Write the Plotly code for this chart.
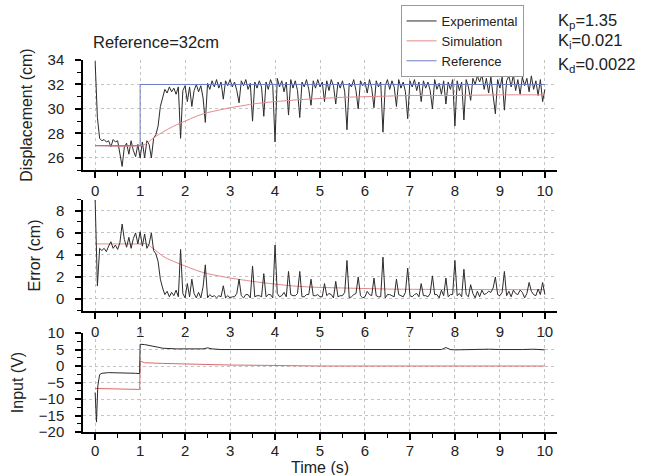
import plotly.graph_objects as go

# ---------------------------------------------------------------
# Closed-loop PID response, reference step to 32 cm
# ---------------------------------------------------------------
SAMPLE_DT = 0.05  # s, sampling period of the logged experiment

# Experimental displacement (cm), one value per sample
disp_exp = [
    33.9, 29.3, 27.6, 27.4, 27.5, 27.3, 27.4, 26.9, 27.5, 27.3,
    27.4, 26.4, 25.3, 26.9, 27.2, 26.3, 27.4, 26.6, 26.1, 27.1,
    26.0, 27.3, 26.0, 27.4, 27.1, 26.0, 27.6, 27.9, 28.6, 30.2,
    31.0, 31.6, 31.3, 31.8, 31.4, 31.7, 31.2, 31.8, 27.6, 31.5,
    31.9, 30.6, 31.8, 30.2, 31.5, 32.0, 31.4, 31.9, 30.9, 28.9,
    32.1, 31.6, 32.3, 31.8, 32.4, 31.7, 32.2, 30.8, 32.3, 31.9,
    32.4, 31.8, 32.2, 31.5, 30.5, 32.3, 31.9, 32.4, 31.6, 32.1,
    29.0, 32.2, 31.7, 32.3, 31.8, 29.4, 32.2, 31.6, 32.4, 31.9,
    27.3, 32.5, 31.8, 32.3, 31.4, 32.2, 29.5, 32.4, 31.7, 32.3,
    31.5, 29.3, 32.2, 31.8, 32.4, 31.6, 30.3, 32.3, 31.7, 32.4,
    31.8, 32.2, 30.6, 32.3, 31.5, 32.4, 31.9, 30.4, 32.2, 31.7,
    32.3, 31.4, 28.3, 32.1, 31.8, 32.4, 31.5, 30.0, 32.3, 31.9,
    32.2, 31.3, 32.4, 31.7, 30.1, 32.3, 31.8, 32.2, 28.1, 31.9,
    32.4, 31.6, 32.3, 31.8, 30.2, 32.4, 31.7, 32.2, 31.4, 29.2,
    32.3, 31.8, 32.4, 31.5, 32.2, 30.6, 32.3, 31.7, 32.2, 31.5,
    30.0, 32.4, 31.6, 32.1, 31.2, 32.3, 30.4, 32.2, 31.6, 32.4,
    28.6, 32.3, 31.5, 32.2, 29.1, 32.4, 31.8, 30.7, 32.5, 32.0,
    32.7, 32.2, 32.8, 31.6, 32.5, 31.3, 32.6, 31.0, 29.6, 32.4,
    31.7, 32.6, 29.9, 32.3, 32.7, 31.8, 32.8, 31.5, 32.4, 31.2,
    32.6, 31.9, 32.5, 31.4, 32.7, 31.6, 32.3, 31.1, 32.4, 30.6,
    31.6,
]

# Experimental tracking error (cm), one value per sample
err_exp = [
    9.0, 1.2, 4.6, 4.4, 4.6, 4.3, 4.8, 5.2, 4.6, 4.9,
    4.5, 5.1, 6.8, 5.4, 4.7, 5.6, 4.6, 5.5, 6.0, 5.0,
    6.1, 4.8, 5.9, 4.6, 5.0, 6.0, 4.4, 4.1, 3.4, 1.8,
    1.0, 0.4, 0.7, 0.2, 0.6, 0.3, 0.8, 0.2, 4.5, 0.5,
    0.1, 1.4, 0.2, 1.8, 0.5, 0.1, 0.6, 0.1, 1.1, 3.1,
    0.1, 0.4, 0.2, 0.3, 0.1, 0.3, 0.2, 1.2, 0.1, 0.3,
    0.1, 0.2, 0.2, 0.5, 1.8, 0.3, 0.1, 0.4, 0.4, 0.1,
    3.0, 0.2, 0.3, 0.3, 0.2, 2.3, 0.2, 0.4, 0.4, 0.1,
    4.9, 0.5, 0.2, 0.3, 0.6, 0.2, 2.5, 0.4, 0.3, 0.3,
    0.5, 2.5, 0.2, 0.2, 0.4, 0.4, 1.8, 0.3, 0.3, 0.4,
    0.2, 0.2, 1.4, 0.3, 0.5, 0.4, 0.1, 1.6, 0.2, 0.3,
    0.3, 0.6, 3.5, 0.1, 0.2, 0.4, 0.5, 2.0, 0.3, 0.1,
    0.2, 0.7, 0.4, 0.3, 1.9, 0.3, 0.2, 0.2, 3.8, 0.1,
    0.4, 0.4, 0.3, 0.2, 1.8, 0.4, 0.3, 0.2, 0.6, 2.8,
    0.3, 0.2, 0.4, 0.5, 0.2, 1.4, 0.3, 0.3, 0.2, 0.5,
    2.1, 0.4, 0.4, 0.1, 0.8, 0.3, 1.9, 0.2, 0.4, 0.4,
    3.5, 0.3, 0.5, 0.2, 2.7, 0.4, 0.2, 1.3, 0.5, 0.1,
    0.7, 0.2, 0.8, 0.4, 0.5, 0.7, 0.6, 1.0, 2.0, 0.4,
    0.3, 0.6, 2.5, 0.3, 0.7, 0.2, 0.8, 0.5, 0.4, 0.8,
    0.6, 0.1, 0.5, 1.5, 0.7, 0.4, 0.3, 0.9, 0.4, 1.5,
    0.4,
]

t_exp = [round(i * SAMPLE_DT, 2) for i in range(len(disp_exp))]

# Simulated response (model output)
sim_t = [0.0, 1.0, 1.15, 1.25, 1.5, 1.75, 2.0, 2.25, 2.5, 2.75, 3.0,
         3.25, 3.5, 4.0, 4.5, 5.0, 5.5, 6.0, 6.5, 7.0, 8.0, 9.0, 10.0]
disp_sim = [27.0, 27.0, 27.2, 27.5, 28.1, 28.6, 29.0, 29.4, 29.7, 29.9, 30.1,
            30.25, 30.4, 30.6, 30.75, 30.85, 30.95, 31.0, 31.05, 31.1, 31.1, 31.15, 31.15]
err_sim_t = [0.0, 1.0, 1.15, 1.25, 1.35, 1.5, 1.75, 2.0, 2.25, 2.5, 2.75, 3.0,
             3.25, 3.5, 4.0, 4.5, 5.0, 5.5, 6.0, 6.5, 7.0, 8.0, 9.0, 10.0]
err_sim = [5.0, 5.0, 5.0, 4.7, 4.4, 3.9, 3.4, 3.0, 2.6, 2.3, 2.1, 1.9,
           1.75, 1.6, 1.35, 1.15, 1.05, 1.0, 0.95, 0.9, 0.88, 0.86, 0.85, 0.85]

# Reference set-point (cm)
ref_t = [0.0, 1.0, 1.0, 10.0]
ref_val = [27.0, 27.0, 32.0, 32.0]

# Control input (V)
in_exp_t = [0.0, 0.03, 0.04, 0.06, 0.1, 0.15, 0.3, 0.5, 0.7, 0.9, 0.99,
            1.0, 1.1, 1.2, 1.3, 1.4, 1.5, 1.6, 1.8, 2.0, 2.2, 2.4, 2.5, 2.6,
            2.8, 3.0, 3.25, 3.5, 3.75, 4.0, 4.25, 4.5, 4.75, 5.0, 5.25, 5.5,
            5.75, 6.0, 6.25, 6.5, 6.75, 7.0, 7.25, 7.5, 7.7, 7.8, 7.9, 8.0,
            8.25, 8.5, 8.75, 9.0, 9.25, 9.5, 9.75, 10.0]
in_exp = [-8.0, -17.0, -13.0, -6.0, -2.6, -2.2, -2.0, -2.0, -2.1, -2.2, -2.3,
          6.6, 6.5, 6.3, 6.0, 5.7, 5.4, 5.3, 5.2, 5.2, 5.1, 5.2, 5.5, 5.2,
          5.0, 5.0, 5.1, 4.9, 5.1, 5.0, 4.9, 5.1, 5.0, 4.9, 5.0, 4.9,
          5.1, 5.0, 4.9, 5.1, 5.0, 4.9, 5.0, 5.1, 5.0, 5.6, 5.0, 4.9,
          5.0, 4.9, 5.1, 5.0, 4.9, 5.0, 5.1, 4.9]
in_sim_t = [0.0, 0.5, 0.99, 1.0, 1.1, 1.5, 2.0, 2.5, 3.0, 3.8, 5.0, 10.0]
in_sim = [-6.8, -6.9, -7.1, 1.5, 1.0, 0.8, 0.6, 0.4, 0.3, 0.2, 0.0, 0.0]

EXP_COLOR = "#2b2b2b"
SIM_COLOR = "#e48a8a"
REF_COLOR = "#6f7cc4"
TEXT_COLOR = "#222222"
FONT = "Arial, Liberation Sans, sans-serif"

fig = go.Figure()

# Displacement panel
fig.add_trace(go.Scatter(x=t_exp, y=disp_exp, mode="lines", name="Experimental",
                         line=dict(color=EXP_COLOR, width=1), xaxis="x", yaxis="y"))
fig.add_trace(go.Scatter(x=sim_t, y=disp_sim, mode="lines", name="Simulation",
                         line=dict(color=SIM_COLOR, width=1, shape="spline"),
                         xaxis="x", yaxis="y"))
fig.add_trace(go.Scatter(x=ref_t, y=ref_val, mode="lines", name="Reference",
                         line=dict(color=REF_COLOR, width=1), xaxis="x", yaxis="y"))

# Error panel
fig.add_trace(go.Scatter(x=err_sim_t, y=err_sim, mode="lines", showlegend=False,
                         line=dict(color=SIM_COLOR, width=1, shape="spline"),
                         xaxis="x2", yaxis="y2"))
fig.add_trace(go.Scatter(x=t_exp, y=err_exp, mode="lines", showlegend=False,
                         line=dict(color=EXP_COLOR, width=1), xaxis="x2", yaxis="y2"))

# Input panel
fig.add_trace(go.Scatter(x=in_sim_t, y=in_sim, mode="lines", showlegend=False,
                         line=dict(color="#d86a6a", width=1), xaxis="x3", yaxis="y3"))
fig.add_trace(go.Scatter(x=in_exp_t, y=in_exp, mode="lines", showlegend=False,
                         line=dict(color=EXP_COLOR, width=1), xaxis="x3", yaxis="y3"))

axis_common = dict(
    showline=True, linecolor="black", linewidth=1.5,
    ticks="outside", ticklen=6, tickwidth=1.5, tickcolor="black",
    showgrid=True, gridcolor="#c4c4c4", griddash="dot", gridwidth=1,
    zeroline=False, tickfont=dict(size=15, color=TEXT_COLOR, family=FONT),
    automargin=False,
)
minor_x = dict(dtick=0.5, ticklen=4, tickwidth=1.2, tickcolor="black",
               ticks="outside", showgrid=False)


def x_axis(anchor, **extra):
    d = dict(axis_common, range=[-0.27, 10.27], tick0=0, dtick=1,
             minor=minor_x, anchor=anchor, domain=[0, 1])
    d.update(extra)
    return d


def y_axis(domain, rng, dtick, minor_dtick, title):
    return dict(axis_common, domain=domain, range=rng, tick0=0, dtick=dtick,
                ticklabelstandoff=8,
                minor=dict(dtick=minor_dtick, ticklen=4, tickwidth=1.2,
                           tickcolor="black", ticks="outside", showgrid=False),
                title=dict(text=title, font=dict(size=16, color=TEXT_COLOR, family=FONT),
                           standoff=11))


fig.update_layout(
    width=648, height=475,
    margin=dict(l=83, r=91, t=60, b=43, autoexpand=False),
    paper_bgcolor="white", plot_bgcolor="white",
    font=dict(family=FONT, color=TEXT_COLOR),
    xaxis=x_axis("y"),
    xaxis2=x_axis("y2"),
    xaxis3=x_axis("y3", ticklabelstandoff=-2),
    yaxis=y_axis([0.704, 1.0], [25, 34], 2, 1, "Displacement (cm)"),
    yaxis2=y_axis([0.325, 0.624], [-1.1, 9], 2, 1, "Error (cm)"),
    yaxis3=y_axis([0.0, 0.266], [-20, 10], 5, 2.5, "Input (V)"),
    legend=dict(x=0.67, y=1.1478, xanchor="left", yanchor="top",
                bgcolor="white", bordercolor="#9a9a9a", borderwidth=1,
                font=dict(size=13, color=TEXT_COLOR, family=FONT),
                tracegroupgap=0, itemwidth=30),
    showlegend=True,
)


def note(text, x, y, size, **kw):
    return dict(text=text, x=x, y=y, xref="paper", yref="paper",
                xanchor="left", yanchor="middle", showarrow=False,
                font=dict(size=size, color=TEXT_COLOR, family=FONT), **kw)


annotations = [
    note("Reference=32cm", 0.017, 1.048, 16.5),
    note("K<sub>p</sub>=1.35", 0.998, 1.104, 16.5),
    note("K<sub>i</sub>=0.021", 0.998, 1.051, 16.5),
    note("K<sub>d</sub>=0.0022", 0.998, 0.987, 16.5),
    dict(text="Time (s)", x=0.5, y=0, xref="paper", yref="paper",
         xanchor="center", yanchor="bottom", yshift=-46, showarrow=False,
         font=dict(size=16, color=TEXT_COLOR, family=FONT)),
]
fig.update_layout(annotations=annotations)

fig.write_html("out.html")
